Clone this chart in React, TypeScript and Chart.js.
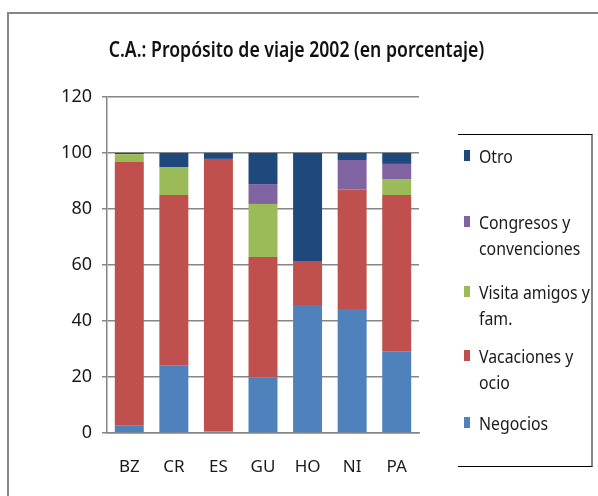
import React, { useEffect, useRef } from "react";
import { Chart, registerables } from "chart.js";

Chart.register(...registerables);

const categories = ["BZ", "CR", "ES", "GU", "HO", "NI", "PA"];
const negocios = [2.6, 24.0, 0.5, 19.8, 45.7, 44.3, 29.0];
const vacaciones = [94.4, 61.0, 97.4, 43.1, 15.7, 42.6, 56.0];
const visita = [2.6, 10.0, 0, 18.9, 0, 0, 5.7];
const congresos = [0, 0, 0, 7.1, 0, 10.6, 5.4];
const otro = [0.4, 5.0, 2.1, 11.1, 38.6, 2.5, 3.9];
const yTicks = [0, 20, 40, 60, 80, 100, 120];

const seriesNames = ["Negocios", "Vacaciones y ocio", "Visita amigos y fam.", "Congresos y convenciones", "Otro"];
const seriesColors = ["#4F81BD", "#C0504D", "#9BBB59", "#8064A2", "#1F497D"];

const FONT = "'Noto Sans', sans-serif";

const legendItems = [
  { color: seriesColors[4], lines: ["Otro"], top: 143 },
  { color: seriesColors[3], lines: ["Congresos y", "convenciones"], top: 209 },
  { color: seriesColors[2], lines: ["Visita amigos y", "fam."], top: 279 },
  { color: seriesColors[1], lines: ["Vacaciones y", "ocio"], top: 343 },
  { color: seriesColors[0], lines: ["Negocios"], top: 410 },
];

export default function App() {
  const ref = useRef<HTMLCanvasElement | null>(null);

  useEffect(() => {
    if (!ref.current) return;
    const values = [negocios, vacaciones, visita, congresos, otro];
    const chart = new Chart(ref.current, {
      type: "bar",
      data: {
        labels: categories,
        datasets: values.map((d, i) => ({
          label: seriesNames[i],
          data: d,
          backgroundColor: seriesColors[i],
          borderWidth: 0,
          categoryPercentage: 0.65,
          barPercentage: 1,
        })),
      },
      options: {
        animation: false,
        responsive: false,
        layout: { padding: { top: 97, right: 179, left: 0, bottom: 0 } },
        plugins: {
          legend: { display: false },
          title: { display: false },
          tooltip: { enabled: false },
        },
        scales: {
          x: {
            stacked: true,
            grid: { display: false, drawTicks: false },
            border: { display: true, color: "#868686", width: 1.5 },
            ticks: { color: "#1a1a1a", font: { family: FONT, size: 17 }, padding: 24 },
            afterFit: (s: any) => { s.height = 63; },
          },
          y: {
            stacked: true,
            min: 0,
            max: 120,
            afterBuildTicks: (s: any) => { s.ticks = yTicks.map((v) => ({ value: v })); },
            grid: { color: "#868686", lineWidth: 1.5, tickLength: 5, drawTicks: true },
            border: { display: true, color: "#868686", width: 1.5 },
            ticks: { color: "#1a1a1a", font: { family: FONT, size: 18 }, padding: 10 },
            afterFit: (s: any) => { s.width = 107; },
          },
        },
      },
    });
    return () => chart.destroy();
  }, []);

  return (
    <div style={{ position: "fixed", left: 0, top: 0, width: 598, height: 496, overflow: "hidden", background: "#fff", fontFamily: FONT }}>
      <div style={{ position: "absolute", left: 7, top: 12, width: 640, height: 540, border: "2px solid #868686" }} />
      <canvas ref={ref} width={598} height={496} style={{ position: "absolute", left: 0, top: 0 }} />
      <div style={{ position: "absolute", left: 0, width: 592, top: 35, textAlign: "center", color: "#111" }}>
        <span style={{ display: "inline-block", fontSize: 21, fontWeight: 600, transform: "scaleX(0.84)", transformOrigin: "center" }}>
          C.A.: Propósito de viaje 2002 (en porcentaje)
        </span>
      </div>
      <div style={{ position: "absolute", left: 458, top: 134, width: 133, height: 331, borderTop: "1.5px solid #000", borderBottom: "1.5px solid #000", borderRight: "2px solid #868686" }} />
      {legendItems.map((it, i) => (
        <div key={i} style={{ position: "absolute", left: 464, top: it.top }}>
          <div style={{ position: "absolute", left: 0, top: 7, width: 6, height: 11, background: it.color }} />
          <div style={{ position: "absolute", left: 15, top: 0, fontSize: 18, lineHeight: "26px", color: "#1a1a1a", whiteSpace: "nowrap", transform: "scaleX(0.88)", transformOrigin: "left top" }}>
            {it.lines.map((l, j) => (<div key={j}>{l}</div>))}
          </div>
        </div>
      ))}
    </div>
  );
}
